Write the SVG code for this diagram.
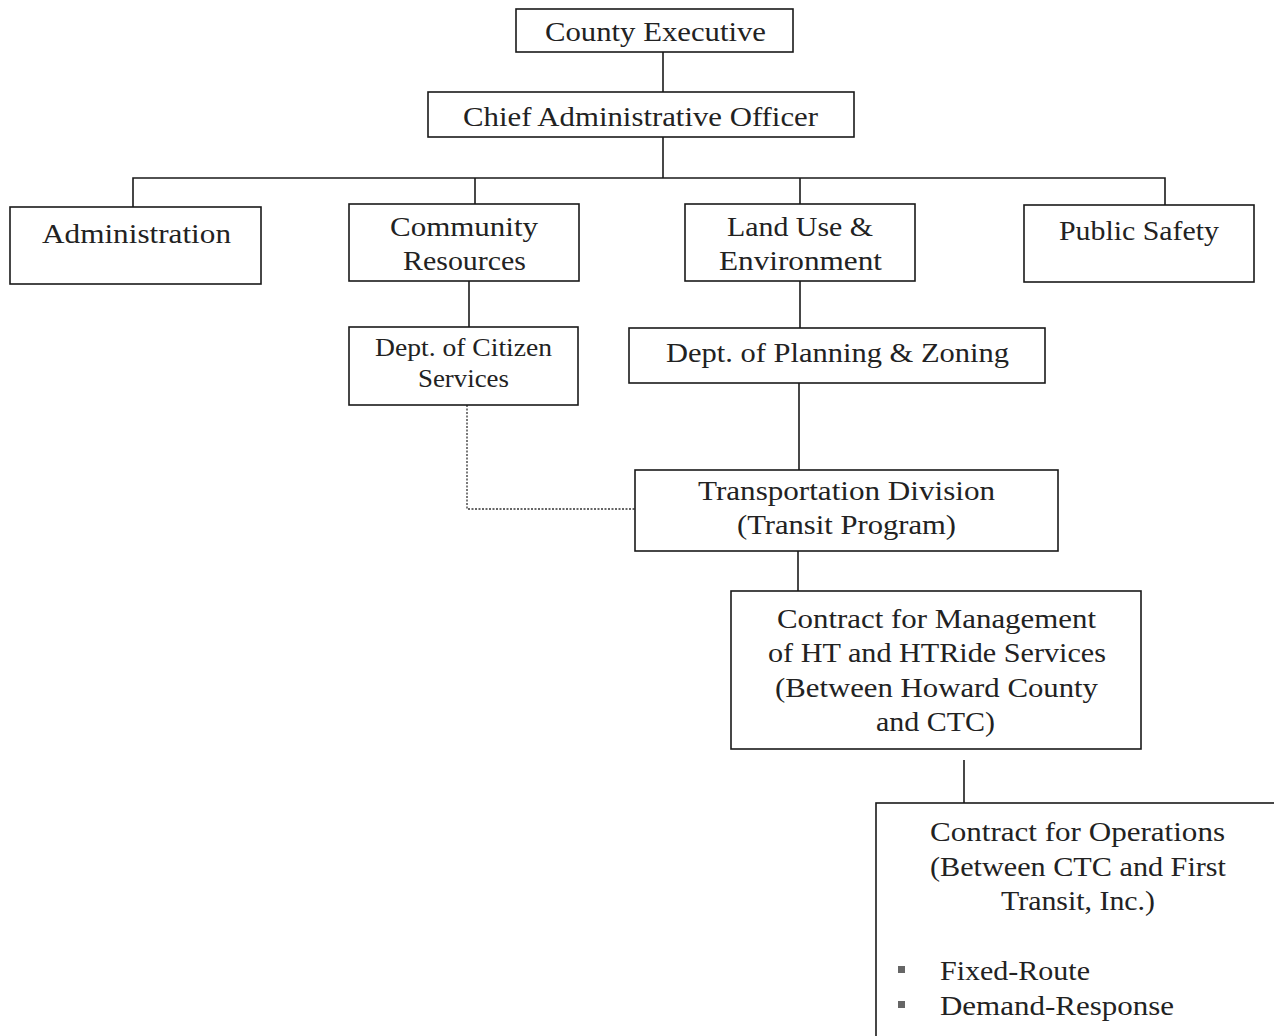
<svg xmlns="http://www.w3.org/2000/svg" width="1274" height="1036" viewBox="0 0 1274 1036">
<style>
.box{fill:#fff;stroke:#1a1a1a;stroke-width:1.6}
.t{font-family:"Liberation Serif","DejaVu Serif",serif;font-size:28px;fill:#222;text-anchor:middle}
.s{font-size:26px}
.l{text-anchor:start}
.ln{stroke:#1a1a1a;stroke-width:1.6;fill:none}
.dot{stroke:#333;stroke-width:1.3;stroke-dasharray:2 1.5;fill:none}
.bul{fill:#666}
</style>
<rect width="1274" height="1036" fill="#fff"/>
<g id="connectors">
<line class="ln" x1="663" y1="52" x2="663" y2="92"/>
<line class="ln" x1="663" y1="137" x2="663" y2="178"/>
<polyline class="ln" points="133,207 133,178 1165,178 1165,205"/>
<line class="ln" x1="475" y1="178" x2="475" y2="204"/>
<line class="ln" x1="800" y1="178" x2="800" y2="204"/>
<line class="ln" x1="469" y1="281" x2="469" y2="327"/>
<line class="ln" x1="800" y1="281" x2="800" y2="328"/>
<line class="ln" x1="799" y1="383" x2="799" y2="470"/>
<polyline class="dot" points="467,405 467,509 635,509"/>
<line class="ln" x1="798" y1="551" x2="798" y2="591"/>
<line class="ln" x1="964" y1="760" x2="964" y2="803"/>
</g>
<g id="county-executive">
<rect class="box" x="516" y="9" width="277" height="43"/>
<text class="t" x="655.5" y="41" textLength="221" lengthAdjust="spacingAndGlyphs">County Executive</text>
</g>
<g id="cao">
<rect class="box" x="428" y="92" width="426" height="45"/>
<text class="t" x="640.5" y="126" textLength="355" lengthAdjust="spacingAndGlyphs">Chief Administrative Officer</text>
</g>
<g id="administration">
<rect class="box" x="10" y="207" width="251" height="77"/>
<text class="t" x="136.5" y="243" textLength="189" lengthAdjust="spacingAndGlyphs">Administration</text>
</g>
<g id="community-resources">
<rect class="box" x="349" y="204" width="230" height="77"/>
<text class="t" x="464" y="236" textLength="148" lengthAdjust="spacingAndGlyphs">Community</text>
<text class="t" x="464.5" y="270" textLength="123" lengthAdjust="spacingAndGlyphs">Resources</text>
</g>
<g id="land-use">
<rect class="box" x="685" y="204" width="230" height="77"/>
<text class="t" x="800" y="236" textLength="146" lengthAdjust="spacingAndGlyphs">Land Use &amp;</text>
<text class="t" x="800.5" y="270" textLength="163" lengthAdjust="spacingAndGlyphs">Environment</text>
</g>
<g id="public-safety">
<rect class="box" x="1024" y="205" width="230" height="77"/>
<text class="t" x="1139" y="240" textLength="160" lengthAdjust="spacingAndGlyphs">Public Safety</text>
</g>
<g id="citizen-services">
<rect class="box" x="349" y="327" width="229" height="78"/>
<text class="t s" x="463.5" y="356" textLength="177" lengthAdjust="spacingAndGlyphs">Dept. of Citizen</text>
<text class="t s" x="463.5" y="387" textLength="91" lengthAdjust="spacingAndGlyphs">Services</text>
</g>
<g id="planning-zoning">
<rect class="box" x="629" y="328" width="416" height="55"/>
<text class="t" x="837.5" y="362" textLength="343" lengthAdjust="spacingAndGlyphs">Dept. of Planning &amp; Zoning</text>
</g>
<g id="transportation">
<rect class="box" x="635" y="470" width="423" height="81"/>
<text class="t" x="846.5" y="500" textLength="297" lengthAdjust="spacingAndGlyphs">Transportation Division</text>
<text class="t" x="846.5" y="534" textLength="219" lengthAdjust="spacingAndGlyphs">(Transit Program)</text>
</g>
<g id="management-contract">
<rect class="box" x="731" y="591" width="410" height="158"/>
<text class="t" x="936.5" y="628" textLength="319" lengthAdjust="spacingAndGlyphs">Contract for Management</text>
<text class="t" x="937" y="662" textLength="338" lengthAdjust="spacingAndGlyphs">of HT and HTRide Services</text>
<text class="t" x="936.5" y="697" textLength="323" lengthAdjust="spacingAndGlyphs">(Between Howard County</text>
<text class="t" x="935.5" y="731" textLength="119" lengthAdjust="spacingAndGlyphs">and CTC)</text>
</g>
<g id="operations-contract">
<rect class="box" x="876" y="803" width="410" height="250"/>
<text class="t" x="1077.5" y="841" textLength="295" lengthAdjust="spacingAndGlyphs">Contract for Operations</text>
<text class="t" x="1078" y="876" textLength="296" lengthAdjust="spacingAndGlyphs">(Between CTC and First</text>
<text class="t" x="1078" y="910" textLength="154" lengthAdjust="spacingAndGlyphs">Transit, Inc.)</text>
<rect class="bul" x="898" y="966" width="7" height="7"/>
<rect class="bul" x="898" y="1001" width="7" height="7"/>
<text class="t l" x="940" y="980" textLength="150" lengthAdjust="spacingAndGlyphs">Fixed-Route</text>
<text class="t l" x="940" y="1015" textLength="234" lengthAdjust="spacingAndGlyphs">Demand-Response</text>
</g>
</svg>
